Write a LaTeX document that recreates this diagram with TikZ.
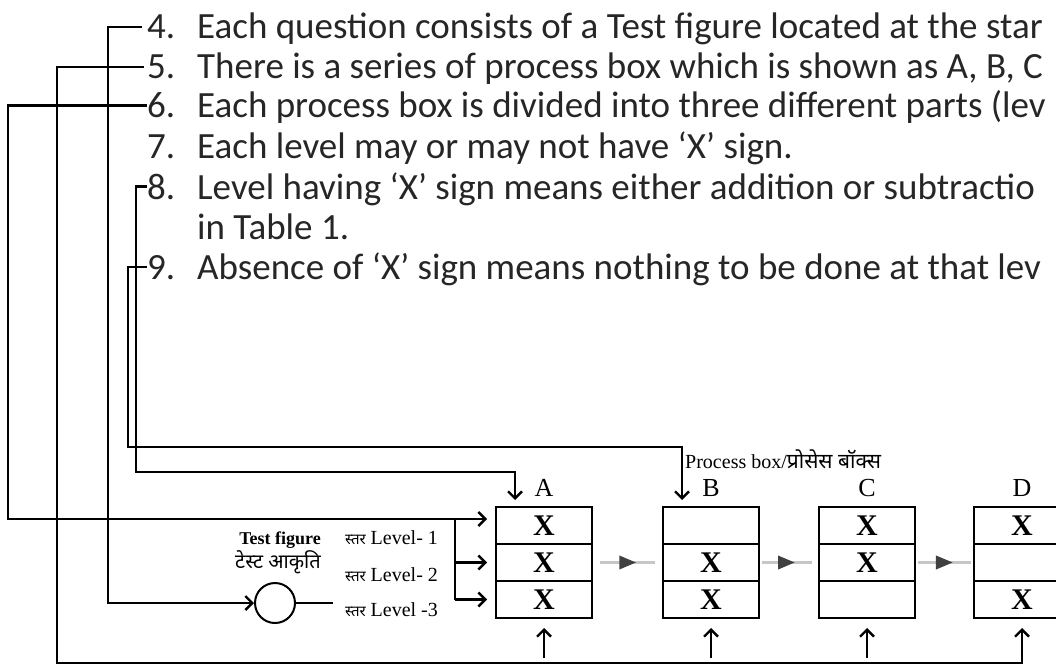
\documentclass[tikz,border=0pt]{standalone}
\usepackage{fontspec}
\setmainfont{Liberation Serif}
\newfontfamily\itemfont{Carlito}
\newfontfamily\hindi[Script=Devanagari]{Noto Sans}
\usetikzlibrary{positioning,arrows.meta,calc,decorations.markings}

\begin{document}
\begin{tikzpicture}[
  x=1pt, y=-1pt,
  item/.style={anchor=base west, inner sep=0pt, text=black!85,
               font=\itemfont\fontsize{37}{40}\selectfont},
  conn/.style={line width=2.4pt, black},
  arr/.style={conn, -{Straight Barb[length=7pt, width=14pt]}},
  cellbox/.style={draw, line width=1.5pt, minimum width=96pt, minimum height=37pt,
                  inner sep=0pt, outer sep=0pt, font=\bfseries\fontsize{30}{30}\selectfont},
  boxlab/.style={anchor=base, inner sep=0pt, font=\fontsize{26}{26}\selectfont},
  lvltext/.style={anchor=west, inner sep=0pt, font=\fontsize{20}{20}\selectfont},
  flow/.style={line width=3.5pt, gray!45, postaction={decorate},
               decoration={markings, mark=at position 0.66 with
                 {\arrow{Triangle[length=17pt, width=13pt, color=black!75]}}}}
]
  \useasboundingbox (0,0) rectangle (1056,671);
  \clip (0,0) rectangle (1056,671);

  % numbered notes
  \node[item] (n4) at (147,39)  {4.};
  \node[item] (t4) at (197,39)  {Each question consists of a Test figure located at the star};
  \node[item] (n5) at (147,79)  {5.};
  \node[item] (t5) at (197,79)  {There is a series of process box which is shown as A, B, C};
  \node[item] (n6) at (147,118) {6.};
  \node[item] (t6) at (197,118) {Each process box is divided into three different parts (lev};
  \node[item] (n7) at (147,158) {7.};
  \node[item] (t7) at (197,158) {Each level may or may not have ‘X’ sign.};
  \node[item] (n8) at (147,199) {8.};
  \node[item] (t8) at (197,199) {Level having ‘X’ sign means either addition or subtractio};
  \node[item] (t8b) at (197,239) {in Table 1.};
  \node[item] (n9) at (147,279) {9.};
  \node[item] (t9) at (197,279) {Absence of ‘X’ sign means nothing to be done at that lev};

  % test figure and its three levels
  \node[circle, draw, line width=2pt, minimum size=40pt, inner sep=0pt] (tf) at (275,603) {};
  \node[anchor=base, inner sep=0pt, font=\bfseries\fontsize{18}{18}\selectfont]
    (tfname) at (280,544) {Test figure};
  \node[anchor=base, inner sep=0pt, font=\hindi\fontsize{20}{20}\selectfont]
    (tfhin) at (278,568) {टेस्ट आकृति};
  \node[lvltext] (lv1) at (345,538) {{\hindi\bfseries\fontsize{15}{15}\selectfont स्तर} Level- 1};
  \node[lvltext] (lv2) at (345,575) {{\hindi\bfseries\fontsize{15}{15}\selectfont स्तर} Level- 2};
  \node[lvltext] (lv3) at (345,610) {{\hindi\bfseries\fontsize{15}{15}\selectfont स्तर} Level -3};

  % process boxes A--D
  \node[cellbox] (A1) at (544,525.5) {X};
  \node[cellbox, right=71pt of A1] (B1) {};
  \node[cellbox, right=60pt of B1] (C1) {X};
  \node[cellbox, right=59pt of C1] (D1) {X};
  \foreach \bx/\m/\l in {A/X/X, B/X/X, C/X/, D//X} {
    \node[cellbox, below=0pt of \bx1] (\bx2) {\m};
    \node[cellbox, below=0pt of \bx2] (\bx3) {\l};
    \node[boxlab] (lab\bx) at ([yshift=11pt]\bx1.north) {\bx};
  }
  \node[anchor=base west, inner sep=0pt, font=\fontsize{20}{20}\selectfont] (pbox) at (685,468)
    {Process box/{\hindi\bfseries\fontsize{21}{21}\selectfont प्रोसेस बॉक्स}};

  \draw[flow] ([xshift=8pt]A2.east) -- ([xshift=-8pt]B2.west);
  \draw[flow] ([xshift=3pt]B2.east) -- ([xshift=-7pt]C2.west);
  \draw[flow] ([xshift=3pt]C2.east) -- ([xshift=-3pt]D2.west);

  % leaders from the notes
  \draw[arr] ([xshift=-5pt]n4.west) -| (108,560) |- (tf.west);
  \coordinate (bot) at (57,663);
  \draw[arr] ([xshift=-3pt]n5.west) -| (bot) -| ([yshift=-10pt]D3.south);
  \foreach \bx in {A,B,C}
    \draw[arr] ($(\bx3.south |- bot)+(0,-5)$) -- ([yshift=-10pt]\bx3.south);

  \coordinate (tk) at (455,519);
  \draw[conn] (n6.west) -| (8,519) -- (tk) -- (tk |- A3.west);
  \draw[arr] (tk) -- ($(A1.west |- tk)+(-9,0)$);
  \draw[arr] (tk |- A2.west) -- ($(A2.west)+(-9,0)$);
  \draw[arr] (tk |- A3.west) -- ($(A3.west)+(-9,0)$);
  \draw[conn] (tf.east) -- ($(tf.east -| lv3.west)+(-12,0)$);

  \draw[arr] (n8.west) -| (136,472) -| ([xshift=-29pt,yshift=7pt]A1.north);
  \draw[arr] (n9.west) -| (128,447) -| ([xshift=-29pt,yshift=7pt]B1.north);
\end{tikzpicture}
\end{document}
